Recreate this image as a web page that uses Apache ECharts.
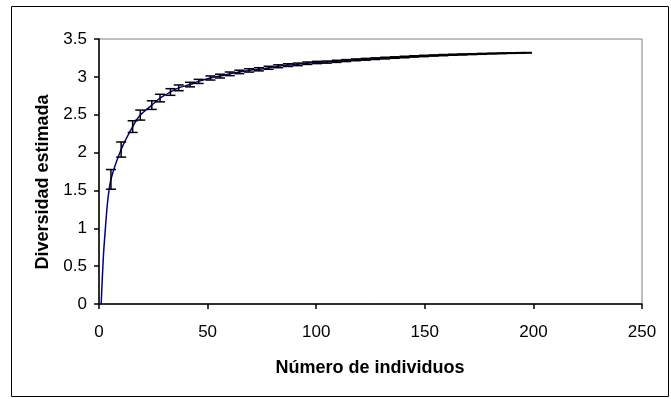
<!DOCTYPE html>
<html>
<head>
<meta charset="utf-8">
<script src="https://cdn.jsdelivr.net/npm/echarts@6/dist/echarts.min.js"></script>
<style>
  html, body { margin: 0; padding: 0; background: #fff; overflow: hidden; }
  #chart { width: 671px; height: 399px; }
</style>
</head>
<body>
<div id="chart"></div>
<script>
// Rarefaction curve: estimated diversity vs number of individuals
const curveX = [1, 2, 3, 4];
const curveY = [0, 0.62, 1.02, 1.36];

// Sample points with mean diversity and +/- error
const sampleX = [5.5, 10.2, 15.5, 19.0, 24.3, 28.1, 32.9, 36.7, 41.9, 45.9, 51.3,
  55.7, 60.2, 64.6, 69.1, 73.6, 78.1, 82.5, 87.0, 91.5, 95.9, 100.4, 104.9, 109.4,
  113.8, 118.3, 122.8, 127.2, 131.7, 136.2, 140.7, 145.1, 149.6, 154.1, 158.5, 163.0,
  167.5, 172.0, 176.4, 180.9, 185.4, 189.8, 194.3, 197.0];
const sampleMean = [1.646, 2.04, 2.343, 2.495, 2.627, 2.72, 2.80, 2.855, 2.898, 2.94, 2.985,
  3.01, 3.04, 3.065, 3.085, 3.10, 3.12, 3.14, 3.155, 3.165, 3.18, 3.19, 3.195, 3.205,
  3.215, 3.225, 3.232, 3.24, 3.248, 3.255, 3.262, 3.27, 3.276, 3.282, 3.287, 3.292,
  3.296, 3.30, 3.304, 3.308, 3.311, 3.314, 3.316, 3.318];
const sampleErr = [0.13, 0.10, 0.077, 0.066, 0.057, 0.05, 0.044, 0.038, 0.03, 0.027, 0.027,
  0.025, 0.024, 0.023, 0.022, 0.021, 0.02, 0.019, 0.018, 0.017, 0.016, 0.015, 0.014, 0.014,
  0.013, 0.012, 0.012, 0.011, 0.011, 0.010, 0.010, 0.009, 0.009, 0.008, 0.008, 0.007,
  0.007, 0.006, 0.006, 0.005, 0.005, 0.004, 0.004, 0.003];

const xTicks = [0, 50, 100, 150, 200, 250];
const yTicks = [0, 0.5, 1, 1.5, 2, 2.5, 3, 3.5];

const lineData = curveX.map((x, i) => [x, curveY[i]])
  .concat(sampleX.map((x, i) => [x, sampleMean[i]]));
const errData = sampleX.map((x, i) => [x, sampleMean[i] - sampleErr[i], sampleMean[i] + sampleErr[i]]);

const font = 'Liberation Sans, Arial, sans-serif';
const chart = echarts.init(document.getElementById('chart'), null, { renderer: 'canvas' });

chart.setOption({
  backgroundColor: '#fff',
  animation: false,
  grid: {
    left: 99, right: 29, top: 39, bottom: 95,
    show: true, borderColor: '#808080', borderWidth: 1, backgroundColor: '#fff'
  },
  xAxis: {
    type: 'value',
    min: xTicks[0], max: xTicks[xTicks.length - 1], interval: 50,
    axisLine: { show: true, onZero: false, lineStyle: { color: '#000', width: 1.5 } },
    axisTick: { show: true, length: 5, inside: false, lineStyle: { color: '#000', width: 1.5 } },
    axisLabel: { color: '#000', fontFamily: font, fontSize: 17, margin: 20 },
    splitLine: { show: false }
  },
  yAxis: {
    type: 'value',
    min: yTicks[0], max: yTicks[yTicks.length - 1], interval: 0.5,
    axisLine: { show: true, onZero: false, lineStyle: { color: '#000', width: 1.5 } },
    axisTick: { show: true, length: 5, inside: false, lineStyle: { color: '#000', width: 1.5 } },
    axisLabel: { color: '#000', fontFamily: font, fontSize: 17, margin: 12 },
    splitLine: { show: false }
  },
  graphic: [
    {
      type: 'rect', z: -10,
      shape: { x: 11.5, y: 6.5, width: 657, height: 390 },
      style: { fill: 'none', stroke: '#000', lineWidth: 1 }
    },
    {
      type: 'text', x: 370, y: 368,
      style: {
        text: 'Número de individuos', font: 'bold 18px ' + font,
        fill: '#000', align: 'center', verticalAlign: 'middle'
      }
    },
    {
      type: 'text', x: 43, y: 182, rotation: Math.PI / 2,
      style: {
        text: 'Diversidad estimada', font: 'bold 18px ' + font,
        fill: '#000', align: 'center', verticalAlign: 'middle'
      }
    }
  ],
  series: [
    {
      type: 'line',
      data: lineData,
      smooth: 0.3,
      showSymbol: false,
      lineStyle: { color: '#00008b', width: 1.5 },
      z: 3
    },
    {
      type: 'custom',
      data: errData,
      z: 4,
      renderItem: function (params, api) {
        const x = api.value(0);
        const lo = api.coord([x, api.value(1)]);
        const hi = api.coord([x, api.value(2)]);
        const half = 5;
        const st = { stroke: '#000', lineWidth: 1.5 };
        return {
          type: 'group',
          children: [
            { type: 'line', shape: { x1: lo[0], y1: lo[1], x2: hi[0], y2: hi[1] }, style: st },
            { type: 'line', shape: { x1: lo[0] - half, y1: lo[1], x2: lo[0] + half, y2: lo[1] }, style: st },
            { type: 'line', shape: { x1: hi[0] - half, y1: hi[1], x2: hi[0] + half, y2: hi[1] }, style: st }
          ]
        };
      }
    }
  ]
});
</script>
</body>
</html>
